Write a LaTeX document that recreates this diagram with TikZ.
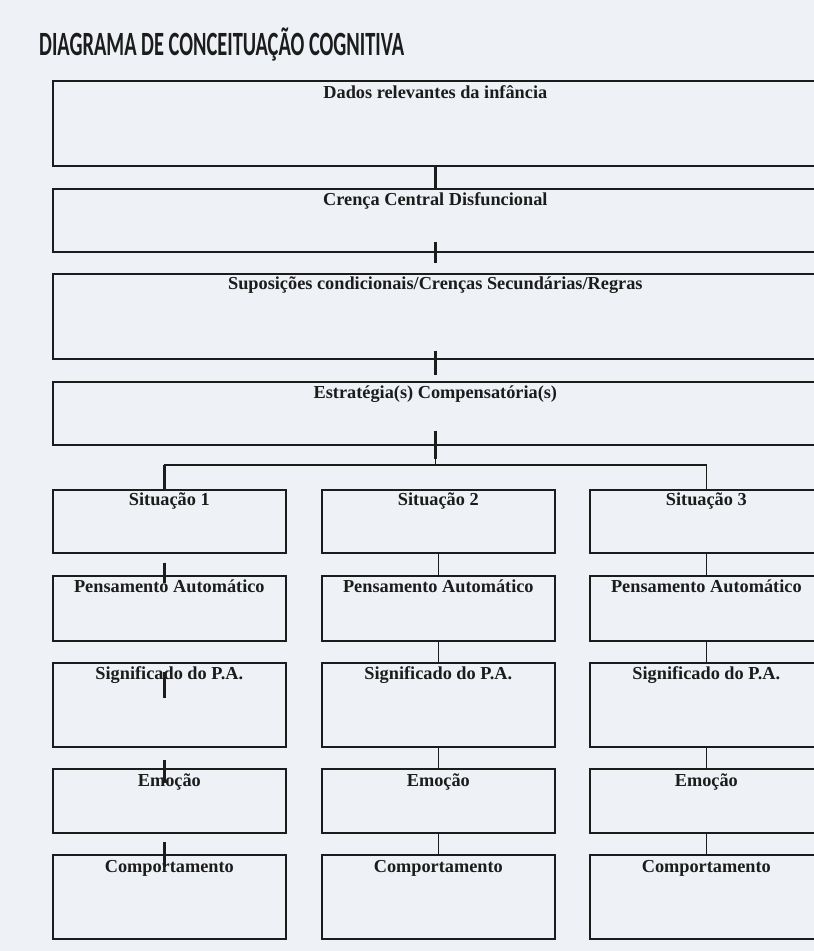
\documentclass[tikz,border=0pt]{standalone}
\usepackage{fontspec}
\setmainfont{Liberation Serif}
\newfontfamily\titlefont[FakeStretch=0.6]{Carlito}
\definecolor{paper}{HTML}{EEF2F6}
\definecolor{ink}{HTML}{1C1C1C}

\begin{document}
\begin{tikzpicture}[
    x=1pt, y=-1pt,
    box/.style={draw=ink, line width=1.7pt, inner sep=0pt, anchor=north west},
    lbl/.style={font=\fontsize{18.3}{20}\selectfont\bfseries, text=ink, anchor=base},
    tick/.style={ink, line width=3.2pt},
    link/.style={ink, line width=1.4pt},
  ]
    \useasboundingbox (0,0) rectangle (814,951);
    \fill[paper] (0,0) rectangle (814,951);
    \clip (0,0) rectangle (814,951);

    % ===== TITLE =====
    \node[font=\titlefont\fontsize{34}{36}\selectfont\bfseries, text=ink, anchor=base west, inner sep=0pt]
      (title) at (39,55) {DIAGRAMA DE CONCEITUAÇÃO COGNITIVA};

    % ===== WIDE BOXES =====
    \node[box, minimum width=765pt, minimum height=85pt,
      label={[lbl, yshift=-18pt]north:Dados relevantes da infância}] (infancia) at (52,80) {};
    \node[box, minimum width=765pt, minimum height=63pt,
      label={[lbl, yshift=-17pt]north:Crença Central Disfuncional}] (crenca) at (52,188) {};
    \node[box, minimum width=765pt, minimum height=85pt,
      label={[lbl, yshift=-16pt]north:Suposições condicionais/Crenças Secundárias/Regras}] (suposicoes) at (52,273) {};
    \node[box, minimum width=765pt, minimum height=63pt,
      label={[lbl, yshift=-17pt]north:Estratégia(s) Compensatória(s)}] (estrategia) at (52,381) {};

    % ticks between the wide boxes
    \draw[tick] (infancia.south) -- (crenca.north);
    \draw[tick] ([yshift=11pt]crenca.south) -- ([yshift=10pt]suposicoes.north);
    \draw[tick] ([yshift=9pt]suposicoes.south) -- ([yshift=6pt]estrategia.north);
    \draw[tick] ([yshift=15pt]estrategia.south) -- ([yshift=-13pt]estrategia.south);

    % ===== THREE COLUMNS =====
    \foreach \c/\x in {1/52, 2/321, 3/589}{
      \node[box, minimum width=233pt, minimum height=63pt,
        label={[lbl, yshift=-16pt]north:Situação \c}] (sit\c) at (\x,489) {};
      \node[box, minimum width=233pt, minimum height=65pt,
        label={[lbl, yshift=-17pt]north:Pensamento Automático}] (pa\c) at (\x,575) {};
      \node[box, minimum width=233pt, minimum height=84pt,
        label={[lbl, yshift=-17pt]north:Significado do P.A.}] (sig\c) at (\x,662) {};
      \node[box, minimum width=233pt, minimum height=64pt,
        label={[lbl, yshift=-18pt]north:Emoção}] (emo\c) at (\x,768) {};
      \node[box, minimum width=233pt, minimum height=84pt,
        label={[lbl, yshift=-18pt]north:Comportamento}] (comp\c) at (\x,854) {};
    }

    % branch from the strategies to situations 1 and 3
    \coordinate (lf) at ([xshift=-5pt, yshift=24pt]sit1.north);
    \coordinate (fork) at (estrategia.south |- lf);
    \draw[link] ([yshift=-13pt]estrategia.south) -- (fork);
    \draw[link] (lf) -- (lf -| sit3.north) -- (sit3.north);
    \draw[tick] (lf) -- ([xshift=-5pt, yshift=-1pt]sit1.north);

    % column 1: short ticks
    \draw[tick] ([xshift=-5pt, yshift=-9pt]sit1.south) -- ([xshift=-5pt, yshift=-8pt]pa1.north);
    \draw[tick] ([xshift=-5pt, yshift=-10pt]sig1.north) -- ([xshift=-5pt, yshift=-36pt]sig1.north);
    \draw[tick] ([xshift=-5pt, yshift=-12pt]sig1.south) -- ([xshift=-5pt, yshift=-15pt]emo1.north);
    \draw[tick] ([xshift=-5pt, yshift=-8pt]emo1.south) -- ([xshift=-5pt, yshift=-13pt]comp1.north);

    % columns 2 and 3: thin links
    \foreach \c in {2,3}{
      \draw[link] (sit\c.south) -- (pa\c.north);
      \draw[link] (pa\c.south) -- (sig\c.north);
      \draw[link] (sig\c.south) -- (emo\c.north);
      \draw[link] (emo\c.south) -- (comp\c.north);
    }

\end{tikzpicture}
\end{document}
